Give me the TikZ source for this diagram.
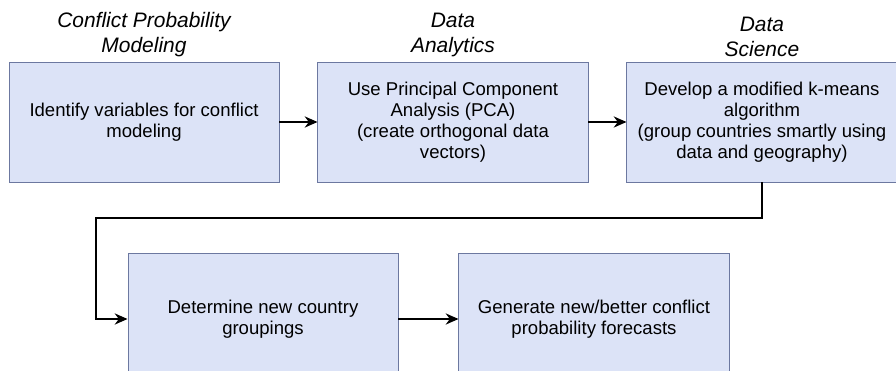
\documentclass[tikz,border=0pt]{standalone}
\usepackage{fontspec}
\setmainfont{Liberation Sans}
\usepackage{tikz}
\usetikzlibrary{positioning,arrows.meta}
\definecolor{boxfill}{RGB}{220,227,247}
\definecolor{boxline}{RGB}{108,120,160}
\tikzstyle{arrow} = [line width=1.1pt, -{Stealth[length=0.32cm,width=0.28cm]}]

\begin{document}
\begin{tikzpicture}[
    stage/.style={
        rectangle,
        draw=boxline,
        line width=0.7pt,
        fill=boxfill,
        minimum width=6.75cm,
        minimum height=3cm,
        align=center,
        font=\fontsize{13.2}{14.9}\selectfont
    },
    heading/.style={
        align=center,
        inner sep=1pt,
        font=\fontsize{14.9}{17.8}\selectfont\itshape
    }
    ]
    \useasboundingbox (0,0) rectangle (22.4,-9.275);
    \clip (0,0) rectangle (22.4,-9.275);

    % top row
    \node[stage] (vars) at (3.6,-3.05) {Identify variables for conflict\\modeling};
    \node[stage, right=0.95cm of vars] (pca) {Use Principal Component\\Analysis (PCA)\\(create orthogonal data\\vectors)};
    \node[stage, right=0.95cm of pca] (kmeans) {Develop a modified k-means\\algorithm\\(group countries smartly using\\data and geography)};

    % headings
    \node[heading, above=0.08cm of vars] (conflict) {Conflict Probability\\Modeling};
    \node[heading, above=0.08cm of pca] (analytics) {Data\\Analytics};
    \node[heading, above=0.08cm of kmeans] (science) {Data\\Science};

    % bottom row
    \node[stage, minimum height=3.3cm] (groups) at (6.575,-7.975) {Determine new country\\groupings};
    \node[stage, minimum height=3.3cm, right=1.5cm of groups] (forecast) {Generate new/better conflict\\probability forecasts};

    \coordinate (turn) at (2.4,-5.45);

    \draw[arrow] (vars) -- (pca);
    \draw[arrow] (pca) -- (kmeans);
    \draw[arrow] (kmeans.south) |- (turn) |- (groups.west);
    \draw[arrow] (groups) -- (forecast);
\end{tikzpicture}
\end{document}
